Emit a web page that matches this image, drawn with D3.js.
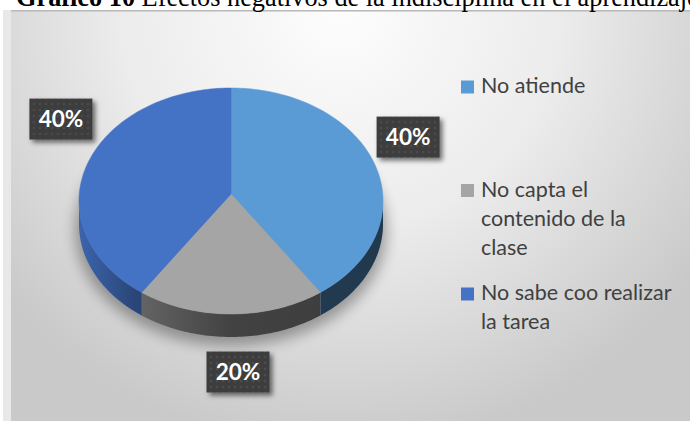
<!DOCTYPE html>
<html><head><meta charset="utf-8">
<script src="https://cdn.jsdelivr.net/npm/d3@7"></script>
<style>html,body{margin:0;padding:0;background:#fff;overflow:hidden}</style>
</head><body><svg id="c" width="690" height="421"></svg>
<script>
const titleBold = "Gráfico 10";
const titleRest = " Efectos negativos de la indisciplina en el aprendizaje";
const categories = ["No atiende", "No capta el\ncontenido de la\nclase", "No sabe coo realizar\nla tarea"];
const values = [40, 20, 40];
const labels = ["40%", "20%", "40%"];
const colors = ["#5B9BD5", "#A5A5A5", "#4472C4"];

const svg = d3.select("#c");
const W = 690, H = 421;
const defs = svg.append("defs");

// background gradient
const bg = defs.append("radialGradient").attr("id", "bg").attr("gradientUnits", "userSpaceOnUse")
  .attr("cx", 340).attr("cy", 10).attr("r", 440);
bg.append("stop").attr("offset", 0).attr("stop-color", "#fdfdfd");
bg.append("stop").attr("offset", 0.5).attr("stop-color", "#ececec");
bg.append("stop").attr("offset", 1).attr("stop-color", "#c9c9c9");

// left strip and frame
svg.append("rect").attr("x", 3).attr("y", 10).attr("width", 8).attr("height", H - 10).attr("fill", "#e8e8e8");
svg.append("rect").attr("x", 11).attr("y", 10).attr("width", W - 11).attr("height", H - 10).attr("fill", "url(#bg)");
svg.append("rect").attr("x", 11).attr("y", 10).attr("width", W - 11).attr("height", 1.5).attr("fill", "#b8b8b8");

// title
const title = svg.append("text").attr("x", 16).attr("y", 6)
  .attr("font-family", "'Liberation Serif', 'Times New Roman', serif").attr("font-size", 26.3).attr("fill", "#000");
title.append("tspan").attr("font-weight", "bold").text(titleBold);
title.append("tspan").text(titleRest);

// pie geometry
const cx = 231, cy = 201, rx = 152, ry = 113, depth = 23, apexLift = 7;
const pie = d3.pie().sort(null).value(d => d).startAngle(0).endAngle(2 * Math.PI);
const arcs = pie(values);

const px = a => cx + rx * Math.sin(a);
const py = (a, dz = 0) => cy - ry * Math.cos(a) + dz;
function arcPts(a0, a1, dz) {
  const n = Math.max(2, Math.ceil((a1 - a0) / 0.02));
  return d3.range(n + 1).map(i => { const a = a0 + (a1 - a0) * i / n; return [px(a), py(a, dz)]; });
}

// shadow
const sh = defs.append("filter").attr("id", "sh").attr("x", "-20%").attr("y", "-20%").attr("width", "140%").attr("height", "160%");
sh.append("feGaussianBlur").attr("stdDeviation", 7);
svg.append("ellipse").attr("cx", cx).attr("cy", cy + depth + 6).attr("rx", rx + 4).attr("ry", ry + 3)
  .attr("fill", "#000").attr("opacity", 0.33).attr("filter", "url(#sh)");

// side walls
const wallShade = defs.append("linearGradient").attr("id", "wallShade").attr("gradientUnits", "userSpaceOnUse")
  .attr("x1", cx - rx).attr("x2", cx + rx).attr("y1", 0).attr("y2", 0);
[[0, 0.12], [0.18, 0.38], [0.5, 0.6], [1, 0.64]].forEach(([o, v]) =>
  wallShade.append("stop").attr("offset", o).attr("stop-color", "#000").attr("stop-opacity", v));

const walls = svg.append("g");
arcs.forEach((d, i) => {
  const w0 = Math.max(d.startAngle, Math.PI / 2), w1 = Math.min(d.endAngle, 3 * Math.PI / 2);
  if (w0 >= w1) return;
  const top = arcPts(w0, w1, 0), bot = arcPts(w0, w1, depth).reverse();
  const p = "M" + top.concat(bot).map(q => q.join(",")).join("L") + "Z";
  walls.append("path").attr("d", p).attr("fill", colors[i]);
  walls.append("path").attr("d", p).attr("fill", "url(#wallShade)");
});

// top faces
const tops = svg.append("g");
arcs.forEach((d, i) => {
  const pts = [[cx, cy - apexLift]].concat(arcPts(d.startAngle, d.endAngle, 0));
  tops.append("path").attr("d", "M" + pts.map(q => q.join(",")).join("L") + "Z")
    .attr("fill", colors[i]).attr("stroke", colors[i]).attr("stroke-width", 0.5);
});

// label boxes
const pat = defs.append("pattern").attr("id", "dots").attr("patternUnits", "userSpaceOnUse").attr("width", 6).attr("height", 6);
pat.append("rect").attr("width", 6).attr("height", 6).attr("fill", "#3d3d3d");
pat.append("circle").attr("cx", 3).attr("cy", 3).attr("r", 1.3).attr("fill", "#4b4b4b");
const ds = defs.append("filter").attr("id", "ds").attr("x", "-30%").attr("y", "-30%").attr("width", "170%").attr("height", "170%");
ds.append("feDropShadow").attr("dx", 3).attr("dy", 3).attr("stdDeviation", 2.5).attr("flood-color", "#000").attr("flood-opacity", 0.55);

const labelNudge = [[4, -17], [7, 0], [3, -35]];
const bw = 63, bh = 41;
arcs.forEach((d, i) => {
  const m = (d.startAngle + d.endAngle) / 2;
  const s = Math.sin(m), c = Math.cos(m);
  const lx = cx + (rx + 30) * s + labelNudge[i][0];
  const ly = cy - ry * c + (c < 0 ? depth + 35 : -12) + labelNudge[i][1];
  const g = svg.append("g").attr("transform", `translate(${lx},${ly})`);
  g.append("rect").attr("x", -bw / 2).attr("y", -bh / 2).attr("width", bw).attr("height", bh)
    .attr("fill", "url(#dots)").attr("filter", "url(#ds)");
  g.append("text").attr("text-anchor", "middle").attr("dy", "0.36em")
    .attr("font-family", "Lato, 'Open Sans', sans-serif").attr("font-weight", "bold").attr("font-size", 22.5)
    .attr("fill", "#fff").text(labels[i]);
});

// legend
const lg = svg.append("g");
const lgX = 461, lgTextX = 481, lgBase = 93, lgStep = 103.5, lineH = 29;
const fontSize = 21.5;
categories.forEach((cat, i) => {
  const base = lgBase + i * lgStep;
  lg.append("rect").attr("x", lgX).attr("y", base - 12.5).attr("width", 13).attr("height", 13).attr("fill", colors[i]);
  const t = lg.append("text").attr("x", lgTextX).attr("y", base)
    .attr("font-family", "Lato, 'Open Sans', sans-serif").attr("font-size", fontSize).attr("fill", "#404040");
  cat.split("\n").forEach((line, j) => {
    t.append("tspan").attr("x", lgTextX).attr("y", base + j * lineH).text(line);
  });
});
</script></body></html>
